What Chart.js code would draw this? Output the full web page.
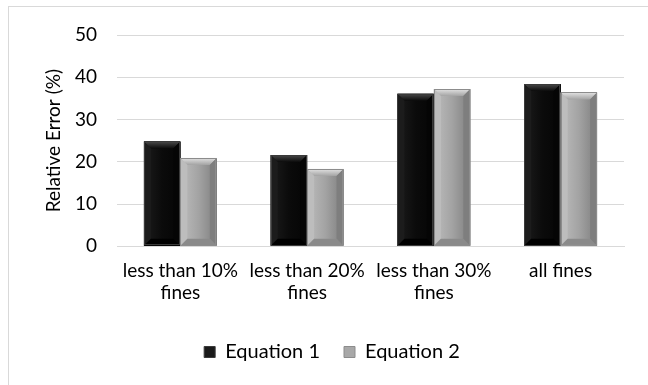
<!DOCTYPE html>
<html>
<head>
<meta charset="utf-8">
<script src="https://cdn.jsdelivr.net/npm/chart.js@4.4.1/dist/chart.umd.min.js"></script>
<style>
  html, body { margin: 0; padding: 0; background: #ffffff; }
  #wrap { position: relative; width: 648px; height: 385px; overflow: hidden; }
  #frame { position: absolute; left: 8px; top: 6px; width: 700px; height: 450px; border: 1px solid #d9d9d9; box-sizing: border-box; }
  canvas { position: absolute; left: 0; top: 0; }
</style>
</head>
<body>
<div id="wrap">
  <div id="frame"></div>
  <canvas id="c" width="648" height="385"></canvas>
</div>
<script>
// Categories and series
const categories = [["less than 10%", "fines"], ["less than 20%", "fines"], ["less than 30%", "fines"], "all fines"];
const equation1 = [24.8, 21.6, 36.1, 38.4];
const equation2 = [20.9, 18.3, 37.2, 36.4];
const yTicks = [0, 10, 20, 30, 40, 50];

const FONT = "Lato, 'Open Sans', sans-serif";
const FS = 19;

// Bevelled bar shading drawn over the flat bars
const palettes = [
  { body: '#0b0b0b', top: '#4a4a4a', left: '#1c1c1c', right: '#050505', bottom: '#000000', edge: '#3a3a3a' },
  { body: '#a3a3a3', top: '#e2e2e2', left: '#bdbdbd', right: '#7e7e7e', bottom: '#8a8a8a', edge: '#8c8c8c' }
];

const bevelPlugin = {
  id: 'bevel',
  afterDatasetsDraw(chart) {
    const ctx = chart.ctx;
    chart.data.datasets.forEach((ds, di) => {
      const meta = chart.getDatasetMeta(di);
      const p = palettes[di];
      meta.data.forEach(bar => {
        const l = bar.x - bar.width / 2, r = bar.x + bar.width / 2;
        const t = bar.y, b = bar.base;
        const bv = Math.min(7, (b - t) / 2);
        ctx.save();
        const g = ctx.createLinearGradient(l, 0, r, 0);
        g.addColorStop(0, p.left);
        g.addColorStop(0.5, p.body);
        g.addColorStop(1, p.right);
        ctx.fillStyle = g;
        ctx.fillRect(l, t, r - l, b - t);
        const gt = ctx.createLinearGradient(0, t, 0, t + bv);
        gt.addColorStop(0, p.top);
        gt.addColorStop(1, p.body);
        ctx.fillStyle = gt;
        ctx.beginPath();
        ctx.moveTo(l, t); ctx.lineTo(r, t); ctx.lineTo(r - bv, t + bv); ctx.lineTo(l + bv, t + bv); ctx.closePath();
        ctx.fill();
        ctx.fillStyle = p.left;
        ctx.beginPath();
        ctx.moveTo(l, t); ctx.lineTo(l + bv, t + bv); ctx.lineTo(l + bv, b - bv); ctx.lineTo(l, b); ctx.closePath();
        ctx.fill();
        ctx.fillStyle = p.right;
        ctx.beginPath();
        ctx.moveTo(r, t); ctx.lineTo(r - bv, t + bv); ctx.lineTo(r - bv, b - bv); ctx.lineTo(r, b); ctx.closePath();
        ctx.fill();
        ctx.fillStyle = p.bottom;
        ctx.beginPath();
        ctx.moveTo(l, b); ctx.lineTo(l + bv, b - bv); ctx.lineTo(r - bv, b - bv); ctx.lineTo(r, b); ctx.closePath();
        ctx.fill();
        ctx.strokeStyle = p.edge;
        ctx.lineWidth = 1;
        ctx.strokeRect(Math.round(l) + 0.5, Math.round(t) + 0.5, Math.round(r - l) - 1, Math.round(b - t) - 1);
        ctx.restore();
      });
    });
  }
};

new Chart(document.getElementById('c'), {
  type: 'bar',
  data: {
    labels: categories,
    datasets: [
      { label: 'Equation 1', data: equation1, backgroundColor: '#0b0b0b', borderWidth: 0 },
      { label: 'Equation 2', data: equation2, backgroundColor: '#a3a3a3', borderWidth: 0 }
    ]
  },
  options: {
    responsive: false,
    animation: false,
    layout: { padding: { left: 40, right: 24, top: 35, bottom: 13 } },
    categoryPercentage: 0.575,
    barPercentage: 1.0,
    plugins: {
      tooltip: { enabled: false },
      legend: {
        position: 'bottom',
        labels: {
          color: '#000000',
          font: { family: FONT, size: 20 },
          boxWidth: 11,
          boxHeight: 11,
          padding: 24,
          generateLabels(chart) {
            return chart.data.datasets.map((ds, i) => ({
              text: ds.label,
              fillStyle: i === 0 ? '#1a1a1a' : '#a8a8a8',
              strokeStyle: i === 0 ? '#3a3a3a' : '#8c8c8c',
              lineWidth: 1,
              datasetIndex: i
            }));
          }
        }
      }
    },
    scales: {
      x: {
        grid: { display: false, drawTicks: false },
        border: { display: true, color: '#d9d9d9', width: 1 },
        ticks: { color: '#000000', font: { family: FONT, size: FS, lineHeight: 1.15 }, padding: 14, maxRotation: 0, autoSkip: false }
      },
      y: {
        min: 0,
        max: 50,
        afterBuildTicks(axis) { axis.ticks = yTicks.map(v => ({ value: v })); },
        afterFit(axis) { axis.width = 77; },
        grid: { color: '#d9d9d9', lineWidth: 1, drawTicks: false },
        border: { display: false },
        ticks: { color: '#000000', font: { family: FONT, size: FS }, padding: 20 },
        title: { display: true, text: 'Relative Error (%)', color: '#000000', font: { family: FONT, size: FS }, padding: { top: 2, bottom: 0 } }
      }
    }
  },
  plugins: [bevelPlugin]
});
</script>
</body>
</html>
